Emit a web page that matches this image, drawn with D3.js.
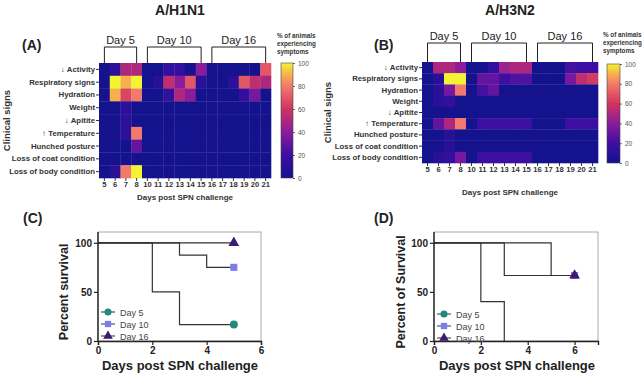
<!DOCTYPE html>
<html>
<head>
<meta charset="utf-8">
<script src="https://cdn.jsdelivr.net/npm/d3@7"></script>
<style>
  body { margin: 0; background: #fff; }
  svg { font-family: "Liberation Sans", "DejaVu Sans", Arial, sans-serif; }
</style>
</head>
<body>
<div id="fig"></div>
<script>
// ---- data ----
const signs = ["↓ Activity", "Respiratory signs", "Hydration", "Weight", "↓ Apitite",
  "↑ Temperature", "Hunched posture", "Loss of coat condition", "Loss of body condition"];
const days = ["5", "6", "7", "8", "10", "11", "12", "13", "14", "15", "16", "17", "18", "19", "20", "21"];
const colorTicks = [0, 20, 40, 60, 80, 100];
const groups = [
  { label: "Day 5", from: "5", to: "8" },
  { label: "Day 10", from: "10", to: "15" },
  { label: "Day 16", from: "16", to: "21" }
];

// % of animals per sign (rows) and day (columns)
const h1n1 = [
  [0, 12, 50, 50, 0, 0, 15, 15, 0, 40, 0, 0, 0, 0, 0, 70],
  [0, 100, 90, 100, 0, 10, 55, 40, 70, 10, 0, 0, 12, 70, 55, 50],
  [0, 90, 65, 80, 0, 0, 15, 50, 40, 0, 0, 0, 0, 15, 35, 0],
  [0, 0, 12, 0, 0, 0, 0, 0, 0, 0, 0, 0, 0, 0, 0, 0],
  [0, 0, 12, 0, 0, 0, 0, 0, 0, 0, 0, 0, 0, 0, 0, 0],
  [0, 0, 12, 80, 0, 0, 0, 0, 0, 0, 0, 0, 0, 0, 0, 0],
  [0, 0, 0, 30, 0, 0, 0, 0, 0, 0, 0, 0, 0, 0, 0, 0],
  [0, 0, 0, 0, 0, 0, 0, 0, 0, 0, 0, 0, 0, 0, 0, 0],
  [0, 10, 80, 100, 0, 0, 0, 0, 0, 0, 0, 0, 0, 0, 0, 0]
];
const h3n2 = [
  [0, 50, 50, 40, 0, 0, 15, 45, 50, 50, 0, 0, 0, 22, 20, 20],
  [0, 10, 100, 100, 0, 30, 30, 20, 25, 25, 0, 0, 0, 35, 55, 62],
  [0, 10, 35, 80, 0, 22, 30, 0, 0, 0, 0, 0, 0, 0, 0, 0],
  [0, 10, 15, 0, 0, 0, 0, 0, 0, 0, 0, 0, 0, 0, 0, 0],
  [0, 0, 0, 0, 0, 0, 0, 0, 0, 0, 0, 0, 0, 0, 0, 0],
  [0, 30, 50, 80, 0, 20, 20, 20, 20, 20, 0, 0, 0, 20, 20, 20],
  [0, 0, 10, 0, 0, 0, 0, 0, 0, 0, 0, 0, 0, 0, 0, 0],
  [0, 0, 10, 0, 0, 0, 0, 0, 0, 0, 0, 0, 0, 0, 0, 0],
  [0, 10, 15, 35, 0, 20, 20, 20, 20, 20, 0, 0, 0, 0, 0, 0]
];

// survival curves (time, percent)
const survTicksY = [0, 50, 100];
const survTicksX = [0, 2, 4, 6];
const survivalC = [
  { name: "Day 5", t: [0, 2, 3, 5], s: [100, 50, 16.7, 16.7] },
  { name: "Day 10", t: [0, 3, 4, 5], s: [100, 87.5, 75, 75] },
  { name: "Day 16", t: [0, 5], s: [100, 100] }
];
const survivalD = [
  { name: "Day 5", t: [0, 2, 3], s: [100, 40, 0] },
  { name: "Day 10", t: [0, 3, 6], s: [100, 66.7, 66.7] },
  { name: "Day 16", t: [0, 5, 6], s: [100, 66.7, 66.7] }
];

// ---- drawing ----
const svg = d3.select("#fig").append("svg").attr("width", 642).attr("height", 375);

const color = d3.scaleLinear()
  .domain([0, 20, 40, 60, 80, 90, 100])
  .range(["#14128c", "#3d0ea2", "#8a1c9c", "#d0345e", "#f27a6c", "#f7b04e", "#f4f332"])
  .interpolate(d3.interpolateRgb);

const markerColor = { "Day 5": "#22897f", "Day 10": "#7c7cf0", "Day 16": "#3b1a72" };
const markerShape = { "Day 5": d3.symbolCircle, "Day 10": d3.symbolSquare, "Day 16": d3.symbolTriangle };

function drawHeatmap(opt) {
  const g = svg.append("g");
  const x = d3.scaleBand().domain(days).range([opt.x0, opt.x1]);
  const y = d3.scaleBand().domain(signs).range([opt.y0, opt.y1]);

  g.append("text").attr("x", opt.titleX).attr("y", 15).attr("text-anchor", "middle")
    .attr("font-size", 14).attr("font-weight", "bold").attr("fill", "#222").text(opt.title);
  g.append("text").attr("x", opt.tagX).attr("y", 50).attr("font-size", 14)
    .attr("font-weight", "bold").attr("fill", "#222").text(opt.tag);

  const cells = [];
  opt.data.forEach((row, i) => row.forEach((v, j) => cells.push({ sign: signs[i], day: days[j], v })));
  g.selectAll("rect.cell").data(cells).join("rect")
    .attr("x", d => x(d.day)).attr("y", d => y(d.sign))
    .attr("width", x.bandwidth() + 0.3).attr("height", y.bandwidth() + 0.3)
    .attr("fill", d => color(d.v));

  // brackets
  const top = opt.y0 - opt.bracketH;
  groups.forEach(gr => {
    const a = x(gr.from) + x.bandwidth() / 2, b = x(gr.to) + x.bandwidth() / 2;
    g.append("path").attr("d", `M${a},${opt.y0}V${top}H${b}V${opt.y0}`)
      .attr("fill", "none").attr("stroke", "#222").attr("stroke-width", 1);
    g.append("text").attr("x", (a + b) / 2).attr("y", top - 3).attr("text-anchor", "middle")
      .attr("font-size", 11).attr("fill", "#222").text(gr.label);
  });

  // axes
  const ay = g.append("g").attr("transform", `translate(${opt.x0},0)`)
    .call(d3.axisLeft(y).tickSize(3).tickPadding(1));
  ay.select(".domain").remove();
  ay.selectAll("line").attr("stroke", "#333");
  ay.selectAll("text").attr("font-size", 7.8).attr("font-weight", "bold").attr("fill", "#333")
    .attr("font-family", "'Liberation Sans', 'DejaVu Sans', sans-serif");

  const ax = g.append("g").attr("transform", `translate(0,${opt.y1})`)
    .call(d3.axisBottom(x).tickSize(3).tickPadding(1));
  ax.select(".domain").remove();
  ax.selectAll("line").attr("stroke", "#333");
  ax.selectAll("text").attr("font-size", 7.6).attr("font-weight", "bold").attr("fill", "#333");

  g.append("text").attr("x", (opt.x0 + opt.x1) / 2).attr("y", opt.xTitleY).attr("text-anchor", "middle")
    .attr("font-size", 8).attr("font-weight", "bold").attr("fill", "#333").text("Days post SPN challenge");
  g.append("text").attr("transform", `translate(${opt.yTitleX},${(opt.y0 + opt.y1) / 2}) rotate(-90)`)
    .attr("text-anchor", "middle").attr("font-size", 9.5).attr("font-weight", "bold").attr("fill", "#333")
    .text("Clinical signs");

  // colour bar
  const gradId = "grad" + opt.tag.replace(/\W/g, "");
  const grad = svg.append("defs").append("linearGradient").attr("id", gradId)
    .attr("x1", 0).attr("y1", 1).attr("x2", 0).attr("y2", 0);
  d3.range(0, 101, 5).forEach(v => grad.append("stop").attr("offset", v / 100).attr("stop-color", color(v)));
  const cy = d3.scaleLinear().domain([0, 100]).range([opt.cb.y1, opt.cb.y0]);
  g.append("rect").attr("x", opt.cb.x).attr("y", opt.cb.y0).attr("width", opt.cb.w)
    .attr("height", opt.cb.y1 - opt.cb.y0).attr("fill", `url(#${gradId})`)
    .attr("stroke", "#444").attr("stroke-width", 0.6);
  const ac = g.append("g").attr("transform", `translate(${opt.cb.x + opt.cb.w},0)`)
    .call(d3.axisRight(cy).tickValues(colorTicks).tickSize(2).tickPadding(3));
  ac.select(".domain").remove();
  ac.selectAll("line").attr("stroke", "#666");
  ac.selectAll("text").attr("font-size", 6.5).attr("fill", "#555");
  ["% of animals", "experiencing", "symptoms"].forEach((t, i) =>
    g.append("text").attr("x", opt.cb.x - 4).attr("y", opt.cb.titleY + i * 7.8)
      .attr("font-size", 6.3).attr("font-weight", "bold").attr("fill", "#333").text(t));
}

drawHeatmap({
  title: "A/H1N1", titleX: 180, tag: "(A)", tagX: 22, data: h1n1,
  x0: 99, x1: 271, y0: 63, y1: 178, bracketH: 16,
  xTitleY: 200, yTitleX: 10,
  cb: { x: 281, w: 12, y0: 63, y1: 178, titleY: 38 }
});
drawHeatmap({
  title: "A/H3N2", titleX: 510, tag: "(B)", tagX: 374, data: h3n2,
  x0: 422, x1: 598, y0: 62, y1: 163, bracketH: 19,
  xTitleY: 195, yTitleX: 331,
  cb: { x: 607, w: 13, y0: 64, y1: 163, titleY: 37 }
});

function drawSurvival(opt) {
  const g = svg.append("g");
  const x = d3.scaleLinear().domain([0, opt.xMax]).range([opt.x0, opt.x1]);
  const y = d3.scaleLinear().domain([0, 111]).range([opt.y1, opt.y0]);

  g.append("text").attr("x", opt.tagX).attr("y", 223).attr("font-size", 14)
    .attr("font-weight", "bold").attr("fill", "#222").text(opt.tag);

  // frame
  g.append("rect").attr("x", opt.x0).attr("y", opt.y0).attr("width", opt.x1 - opt.x0)
    .attr("height", opt.y1 - opt.y0).attr("fill", "none").attr("stroke", "#aaa").attr("stroke-width", 1);

  const line = d3.line().x(d => x(d[0])).y(d => y(d[1])).curve(d3.curveStepAfter);
  opt.data.forEach(s => {
    const pts = s.t.map((t, i) => [t, s.s[i]]);
    g.append("path").attr("d", line(pts)).attr("fill", "none")
      .attr("stroke", "#333").attr("stroke-width", 1.2);
  });
  opt.data.forEach(s => {
    const last = s.s.length - 1;
    if (s.s[last] <= 0) return;
    g.append("path").attr("d", d3.symbol(markerShape[s.name], 50)())
      .attr("transform", `translate(${x(s.t[last])},${y(s.s[last])})`)
      .attr("fill", markerColor[s.name]);
  });

  const ax = g.append("g").attr("transform", `translate(0,${opt.y1})`)
    .call(d3.axisBottom(x).tickValues(survTicksX).tickFormat(d3.format("d")).tickSize(4).tickPadding(2));
  ax.select(".domain").attr("stroke", "#222").attr("stroke-width", 1.4);
  ax.selectAll("line").attr("stroke", "#222").attr("stroke-width", 1.2);
  ax.selectAll("text").attr("font-size", 10).attr("font-weight", "bold").attr("fill", "#222");

  const ay = g.append("g").attr("transform", `translate(${opt.x0},0)`)
    .call(d3.axisLeft(y).tickValues(survTicksY).tickFormat(d3.format("d")).tickSize(4).tickPadding(2));
  ay.select(".domain").attr("d", `M0,${opt.y1}V${opt.y0}`).attr("stroke", "#222").attr("stroke-width", 1.4);
  ay.selectAll("line").attr("stroke", "#222").attr("stroke-width", 1.2);
  ay.selectAll("text").attr("font-size", 10).attr("font-weight", "bold").attr("fill", "#222");

  g.append("text").attr("x", opt.xTitleX).attr("y", 370).attr("text-anchor", "middle")
    .attr("font-size", 13).attr("font-weight", "bold").attr("fill", "#222").text("Days post SPN challenge");
  g.append("text").attr("transform", `translate(${opt.yTitleX},${y(50)}) rotate(-90)`)
    .attr("text-anchor", "middle").attr("font-size", 12.5).attr("font-weight", "bold").attr("fill", "#222")
    .text(opt.yTitle);

  // legend
  opt.data.forEach((s, i) => {
    const ly = opt.legY + i * 12;
    g.append("line").attr("x1", opt.legX).attr("x2", opt.legX + 14).attr("y1", ly).attr("y2", ly)
      .attr("stroke", "#333").attr("stroke-width", 1);
    g.append("path").attr("d", d3.symbol(markerShape[s.name], 40)())
      .attr("transform", `translate(${opt.legX + 7},${ly})`).attr("fill", markerColor[s.name]);
    g.append("text").attr("x", opt.legX + 19).attr("y", ly + 3.5).attr("font-size", 9)
      .attr("fill", "#444").text(s.name);
  });
}

drawSurvival({
  tag: "(C)", tagX: 23, data: survivalC, xMax: 6,
  x0: 98, x1: 261, y0: 232, y1: 341,
  xTitleX: 180, yTitleX: 68, yTitle: "Percent survival",
  legX: 101, legY: 312
});
drawSurvival({
  tag: "(D)", tagX: 374, data: survivalD, xMax: 7,
  x0: 434, x1: 598, y0: 232, y1: 341,
  xTitleX: 517, yTitleX: 405, yTitle: "Percent of Survival",
  legX: 437, legY: 314
});
</script>
</body>
</html>
